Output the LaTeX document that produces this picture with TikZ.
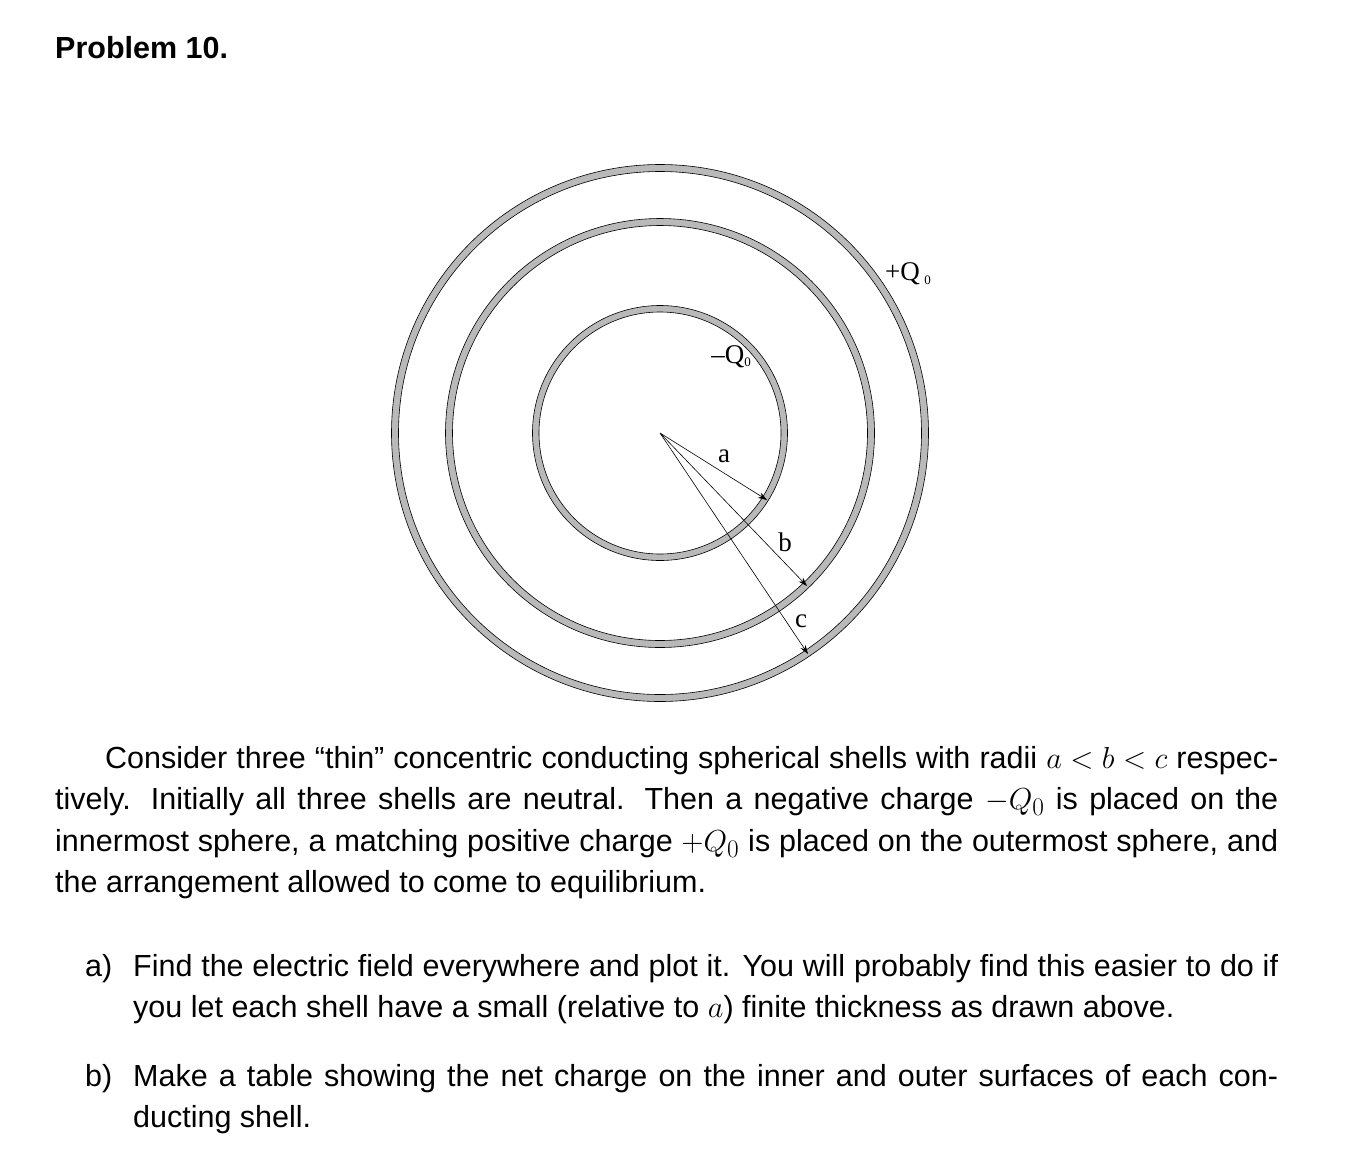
\documentclass[tikz,border=0pt]{standalone}
\usepackage{fontspec}
\setmainfont{Liberation Sans}
\newfontfamily\serifr{Liberation Serif}
\usetikzlibrary{arrows.meta}
\newcommand{\bm}[1]{\scalebox{1.22}{$#1$}}
\begin{document}
\begin{tikzpicture}[x=1pt,y=-1pt,
  shell/.style={draw=black,line width=0.6pt,fill=gray!55,even odd rule},
  radline/.style={-{Stealth[length=9pt,width=6pt]},line width=0.6pt},
  lbl/.style={font=\serifr\fontsize{27}{27}\selectfont,inner sep=0pt},
  body/.style={font=\fontsize{30.5}{41.5}\selectfont,inner sep=0pt,anchor=north west,align=justify}]
\useasboundingbox (0,0) rectangle (1358,1168);
\coordinate (O) at (660,433);
\filldraw[shell] (O) circle[radius=127.5] (O) circle[radius=121];
\filldraw[shell] (O) circle[radius=214.5] (O) circle[radius=207.5];
\filldraw[shell] (O) circle[radius=268.5] (O) circle[radius=261.5];
\coordinate (A) at (767,500);
\coordinate (B) at (807,586);
\coordinate (C) at (808,654);
\draw[radline] (O) -- (A);
\draw[radline] (O) -- (B);
\draw[radline] (O) -- (C);
\node[lbl] (la) at (724,456) {a};
\node[lbl] (lb) at (785,542) {b};
\node[lbl] (lc) at (801,621) {c};
\node[lbl] (qm) at (731,357) {–Q\raisebox{-0.25ex}{\fontsize{13}{13}\selectfont 0}};
\node[lbl] (qp) at (908,274) {+Q\,\raisebox{-0.3ex}{\fontsize{13}{13}\selectfont 0}};
\node[font=\bfseries\fontsize{30.5}{34}\selectfont,anchor=base west,inner sep=0pt] (title) at (55,58) {Problem 10.};
\node[body,text width=1223pt] (p) at (55,746) {\hspace*{50pt}Consider three “thin” concentric conducting spherical shells with radii \bm{a<b<c} respec-\linebreak tively. Initially all three shells are neutral. Then a negative charge \bm{-Q_0} is placed on the\linebreak innermost sphere, a matching positive charge \bm{+Q_0} is placed on the outermost sphere, and\linebreak the arrangement allowed to come to equilibrium.};
\node[body,anchor=north west] (ia) at (85,954) {a)};
\node[body,text width=1145pt] (ta) at (133,954) {Find the electric field everywhere and plot it. You will probably find this easier to do if\linebreak you let each shell have a small (relative to \bm{a}) finite thickness as drawn above.};
\node[body,anchor=north west] (ib) at (85,1064) {b)};
\node[body,text width=1145pt] (tb) at (133,1064) {Make a table showing the net charge on the inner and outer surfaces of each con-\linebreak ducting shell.};
\end{tikzpicture}
\end{document}
